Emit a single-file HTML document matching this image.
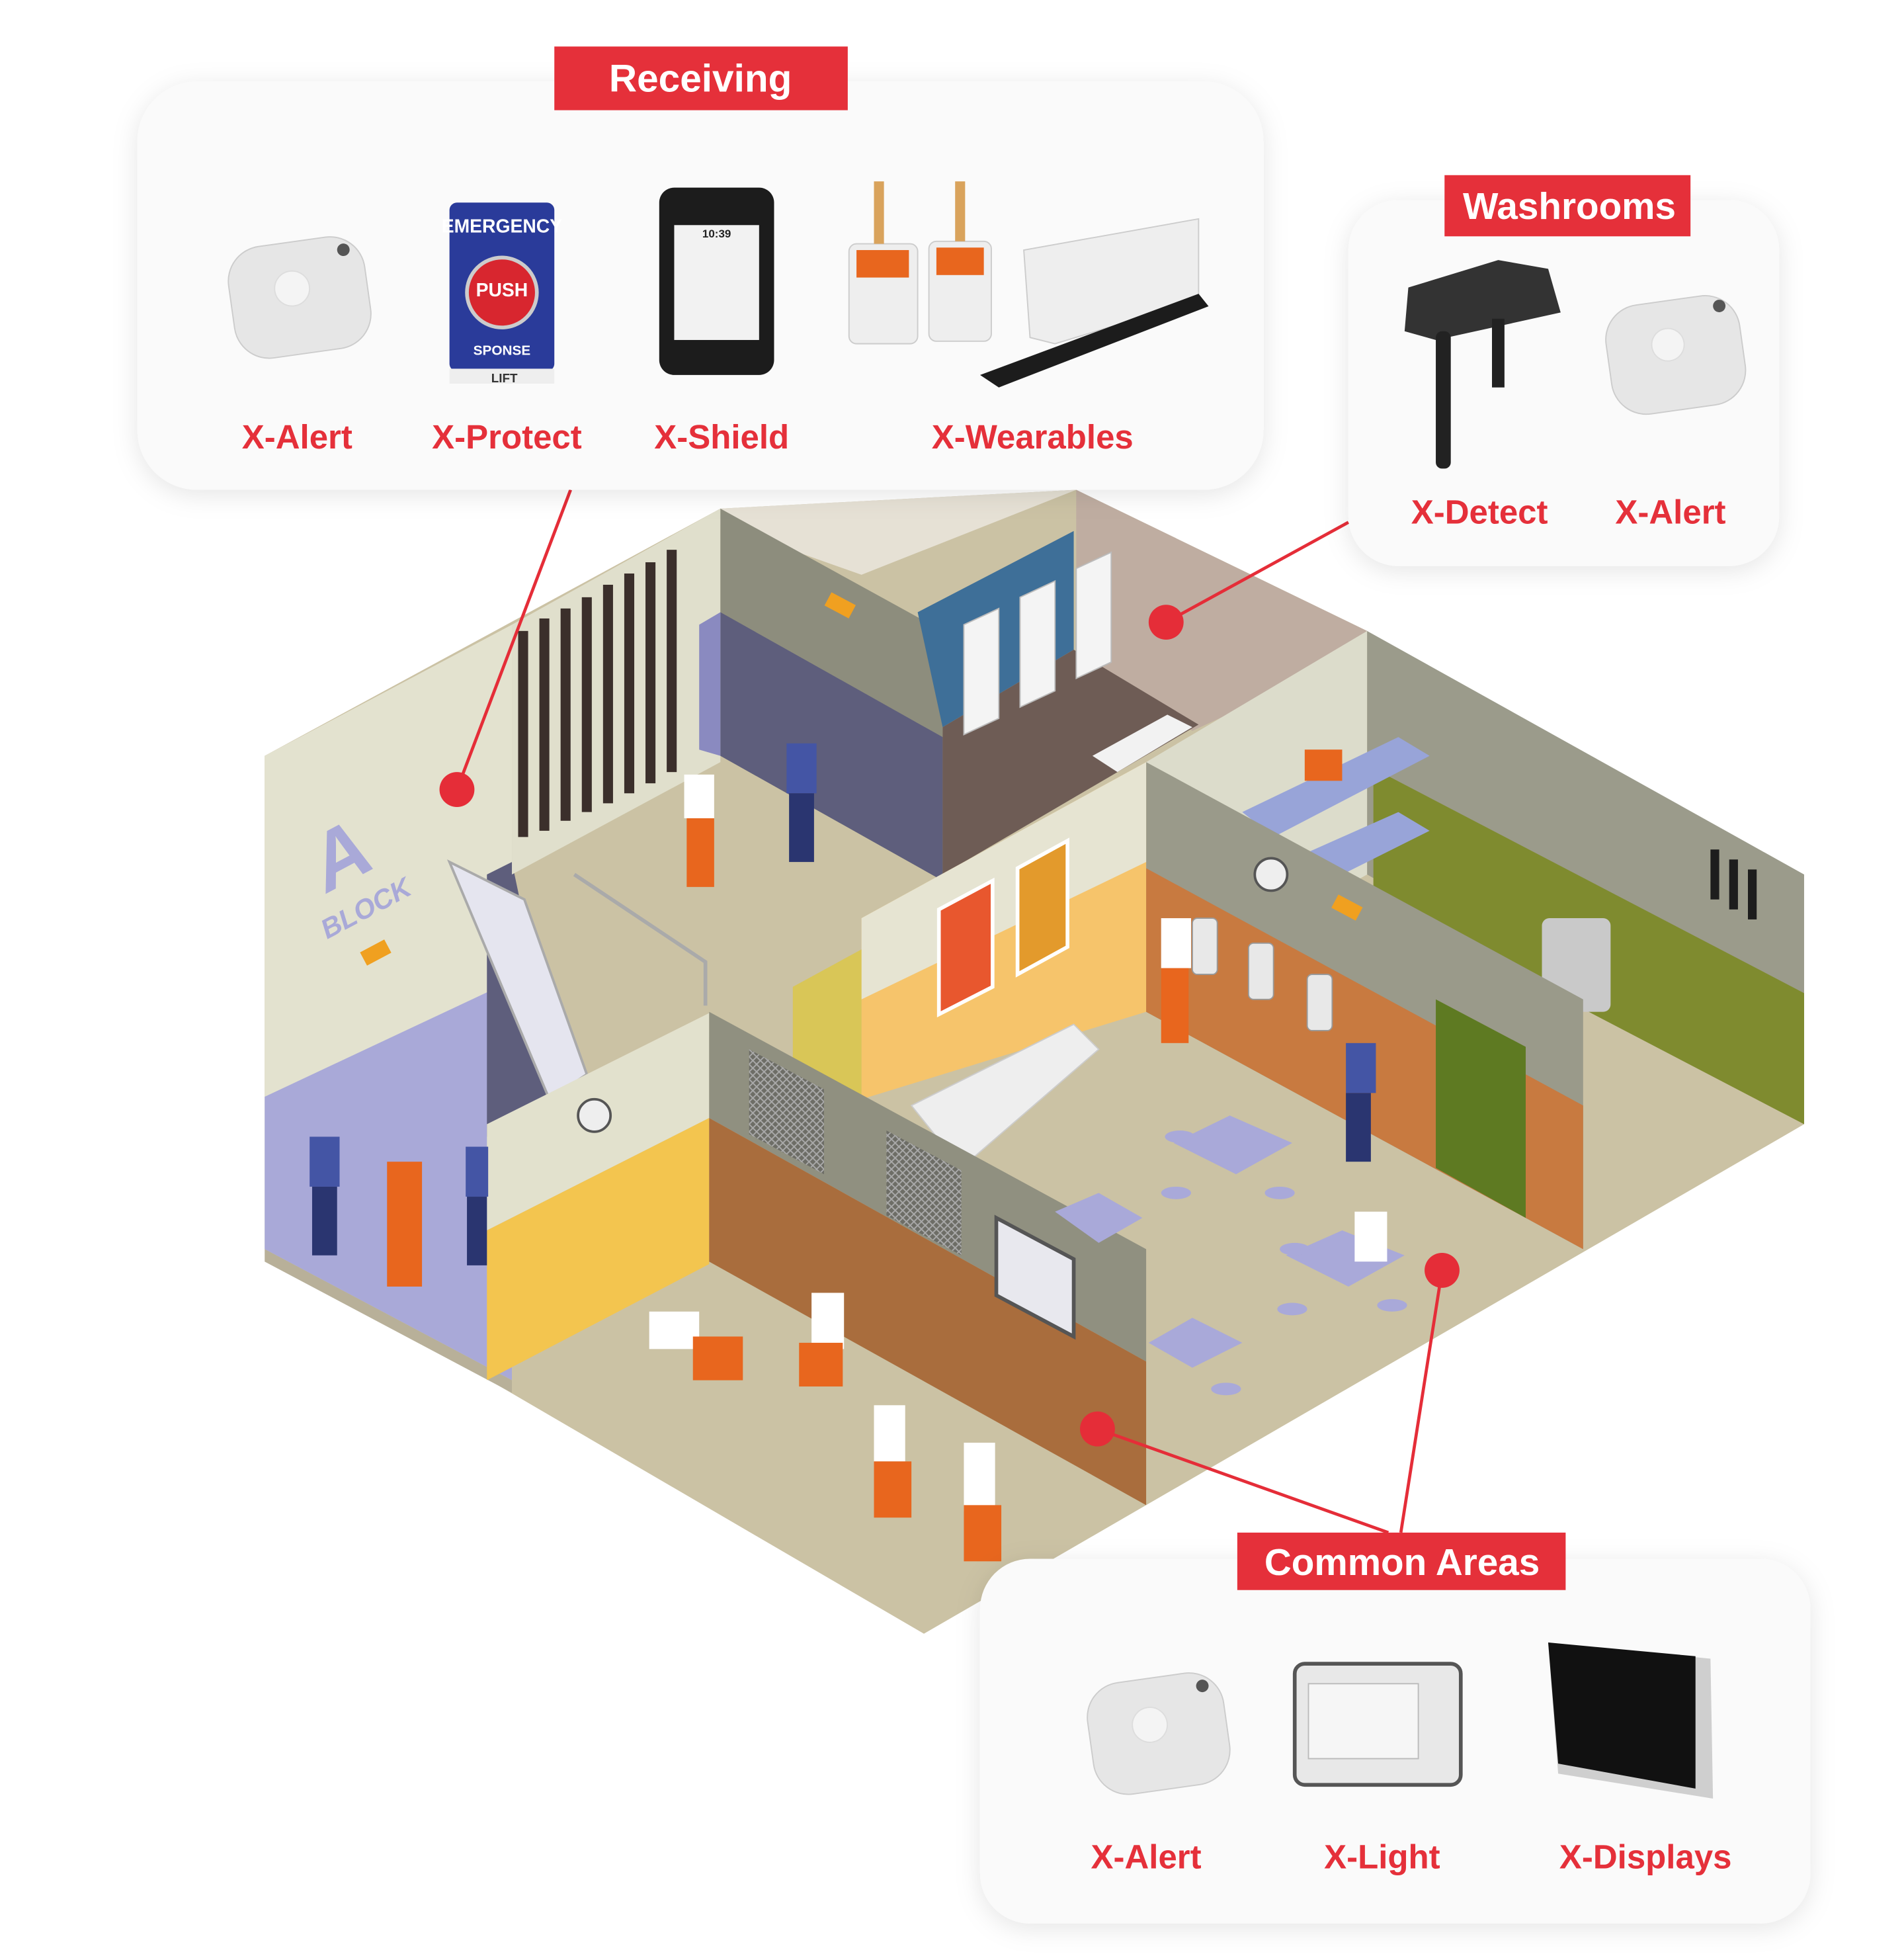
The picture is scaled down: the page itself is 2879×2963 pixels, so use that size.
<!DOCTYPE html>
<html><head><meta charset="utf-8"><style>
html,body{margin:0;padding:0;background:#fff;}
svg{display:block;}
text{font-family:"Liberation Sans",sans-serif;font-weight:bold;}
</style></head><body>
<svg width="2879" height="2963" viewBox="0 0 1525 1569" xmlns="http://www.w3.org/2000/svg">
<defs>
<filter id="sh" x="-10%" y="-10%" width="120%" height="130%"><feDropShadow dx="0" dy="4" stdDeviation="10" flood-color="#000" flood-opacity="0.10"/></filter>
<pattern id="mesh" width="6" height="6" patternUnits="userSpaceOnUse"><rect width="6" height="6" fill="#6d6d66"/><path d="M0 0L6 6M6 0L0 6" stroke="#aaa" stroke-width="1"/></pattern>
</defs>
<rect width="1525" height="1569" fill="#fff"/>

<!-- BUILDING -->
<polygon points="212,1000 740,1308 1445,900 1095,505 862,392 577,407 212,605" fill="#cbc2a4"/>
<polygon points="577,407 862,392 690,460 577,420" fill="#e6e1d5"/>
<!-- left wall -->
<polygon points="212,605 410,500 410,1105 212,1000" fill="#e3e2cf"/>
<polygon points="212,878 410,785 410,1105 212,1000" fill="#a9a9d8"/>
<polygon points="212,1000 410,1105 410,1115 212,1010" fill="#b8b099"/>
<polygon points="390,700 410,690 450,880 390,910" fill="#5e5e7c"/>
<!-- cell back wall -->
<polygon points="410,500 577,407 577,610 410,700" fill="#e0dfcc"/>
<g fill="#3b2f2b">
<rect x="415" y="505" width="8" height="165"/><rect x="432" y="495" width="8" height="170"/><rect x="449" y="487" width="8" height="170"/><rect x="466" y="478" width="8" height="172"/><rect x="483" y="468" width="8" height="175"/><rect x="500" y="459" width="8" height="176"/><rect x="517" y="450" width="8" height="177"/><rect x="534" y="440" width="8" height="178"/>
</g>
<polygon points="577,407 755,505 755,705 577,605" fill="#8d8d7d"/>
<polygon points="577,490 755,590 755,705 577,605" fill="#5e5e7c"/>
<polygon points="577,490 560,500 560,600 577,605" fill="#8a8ac0"/>
<!-- washroom -->
<polygon points="735,490 860,425 860,520 755,582" fill="#3e6f98"/>
<polygon points="862,392 1095,505 1095,520 955,585 862,530" fill="#bfada1"/>
<polygon points="755,582 860,520 960,580 755,700" fill="#6e5c55"/>
<g fill="#f4f4f4" stroke="#bbb">
<polygon points="772,500 800,487 800,575 772,588"/><polygon points="817,478 845,465 845,553 817,566"/><polygon points="862,455 890,442 890,530 862,543"/>
</g>
<polygon points="875,605 935,572 955,582 895,618" fill="#f2f2f2"/>
<!-- bedroom -->
<polygon points="918,610 1095,505 1095,700 918,800" fill="#dcdccb"/>
<polygon points="1095,505 1445,700 1445,900 1095,700" fill="#9b9b8b"/>
<polygon points="1100,615 1445,795 1445,900 1100,720" fill="#7f8b2f"/>
<polygon points="995,650 1120,590 1145,605 1020,670" fill="#98a4d8"/>
<polygon points="1030,690 1120,650 1145,665 1055,710" fill="#98a4d8"/>
<g fill="#1d1d1d"><rect x="1370" y="680" width="7" height="40"/><rect x="1385" y="688" width="7" height="40"/><rect x="1400" y="696" width="7" height="40"/></g>
<rect x="1235" y="735" width="55" height="75" rx="6" fill="#c9c9c9"/>
<!-- middle wall cafeteria/bedroom -->
<polygon points="918,610 1268,800 1268,1000 918,810" fill="#9a9a8a"/>
<polygon points="918,695 1268,885 1268,1000 918,810" fill="#c87a40"/>
<polygon points="1150,800 1222,838 1222,975 1150,935" fill="#5e7a22"/>
<g fill="#e8e8e8" stroke="#999"><rect x="955" y="735" width="20" height="45" rx="4"/><rect x="1000" y="755" width="20" height="45" rx="4"/><rect x="1047" y="780" width="20" height="45" rx="4"/></g>
<circle cx="1018" cy="700" r="13" fill="#eee" stroke="#555" stroke-width="2"/>
<!-- cafeteria back wall -->
<polygon points="690,735 918,610 918,810 690,880" fill="#f6c46b"/>
<polygon points="690,735 918,610 918,690 690,800" fill="#e6e4d2"/>
<polygon points="752,728 795,705 795,790 752,812" fill="#e8572e" stroke="#fff" stroke-width="3"/>
<polygon points="815,695 855,673 855,758 815,780" fill="#e39a2c" stroke="#fff" stroke-width="3"/>
<polygon points="635,790 690,760 690,880 635,860" fill="#d9c657"/>
<polygon points="730,885 860,820 880,840 770,935" fill="#eeeeee" stroke="#ccc"/>
<!-- stairs -->
<polygon points="360,690 420,720 470,860 440,880" fill="#e5e5ef" stroke="#aaa" stroke-width="2"/>
<polyline points="460,700 565,770 565,805" fill="none" stroke="#aaa" stroke-width="3"/>
<!-- gym walls -->
<polygon points="390,900 568,811 568,895 390,985" fill="#e2e1cd"/>
<polygon points="390,985 568,895 568,1012 390,1105" fill="#f3c54f"/>
<polygon points="568,810 918,1000 918,1090 568,895" fill="#909080"/>
<polygon points="568,895 918,1090 918,1205 568,1010" fill="#a96d3d"/>
<polygon points="600,840 660,872 660,940 600,908" fill="url(#mesh)"/>
<polygon points="710,905 770,937 770,1005 710,973" fill="url(#mesh)"/>
<polygon points="798,975 860,1008 860,1070 798,1037" fill="#e8e8ee" stroke="#555" stroke-width="3"/>
<circle cx="476" cy="893" r="13" fill="#eee" stroke="#555" stroke-width="2"/>
<!-- tables -->
<g fill="#a9a9d9">
<polygon points="940,915 985,893 1035,915 990,940"/><polygon points="1030,1005 1075,985 1125,1005 1080,1030"/><polygon points="920,1075 955,1055 995,1075 955,1095"/><polygon points="845,970 880,955 915,975 880,995"/>
<ellipse cx="945" cy="910" rx="12" ry="5"/><ellipse cx="942" cy="955" rx="12" ry="5"/><ellipse cx="1025" cy="955" rx="12" ry="5"/><ellipse cx="1037" cy="1000" rx="12" ry="5"/><ellipse cx="1035" cy="1048" rx="12" ry="5"/><ellipse cx="1115" cy="1045" rx="12" ry="5"/><ellipse cx="982" cy="1112" rx="12" ry="5"/>
</g>
<!-- people (simplified) -->
<g>
<rect x="548" y="620" width="24" height="35" fill="#fff"/><rect x="550" y="655" width="22" height="55" fill="#e8661e"/>
<rect x="630" y="595" width="24" height="40" fill="#4455a5"/><rect x="632" y="635" width="20" height="55" fill="#2a3570"/>
<rect x="248" y="910" width="24" height="40" fill="#4455a5"/><rect x="250" y="950" width="20" height="55" fill="#2a3570"/>
<rect x="310" y="930" width="28" height="100" fill="#e8661e"/>
<rect x="373" y="918" width="18" height="40" fill="#4455a5"/><rect x="374" y="958" width="16" height="55" fill="#2a3570"/>
<rect x="930" y="735" width="24" height="40" fill="#fff"/><rect x="930" y="775" width="22" height="60" fill="#e8661e"/>
<rect x="1078" y="835" width="24" height="40" fill="#4455a5"/><rect x="1078" y="875" width="20" height="55" fill="#2a3570"/>
<rect x="1085" y="970" width="26" height="40" fill="#fff"/>
<rect x="1045" y="600" width="30" height="25" fill="#e8661e"/>
<rect x="650" y="1035" width="26" height="45" fill="#fff"/><rect x="640" y="1075" width="35" height="35" fill="#e8661e"/>
<rect x="520" y="1050" width="40" height="30" fill="#fff"/><rect x="555" y="1070" width="40" height="35" fill="#e8661e"/>
<rect x="700" y="1125" width="25" height="45" fill="#fff"/><rect x="700" y="1170" width="30" height="45" fill="#e8661e"/>
<rect x="772" y="1155" width="25" height="55" fill="#fff"/><rect x="772" y="1205" width="30" height="45" fill="#e8661e"/>
</g>
<text x="0" y="0" transform="translate(262,715) rotate(-28)" font-size="64" fill="#a9a9d8" font-style="italic">A</text>
<text x="0" y="0" transform="translate(262,752) rotate(-28)" font-size="22" fill="#a9a9d8" font-style="italic">BLOCK</text>
<rect x="290" y="757" width="22" height="12" fill="#f0a020" transform="rotate(-28 300 763)"/>
<rect x="662" y="478" width="22" height="12" fill="#f0a020" transform="rotate(28 672 484)"/>
<rect x="1068" y="720" width="22" height="12" fill="#f0a020" transform="rotate(28 1078 726)"/>

<!-- connectors -->
<g stroke="#e52d38" stroke-width="2.5" fill="none">
<line x1="457" y1="392" x2="366" y2="632"/>
<line x1="1080" y1="418" x2="934" y2="498"/>
<line x1="1122" y1="1227" x2="1155" y2="1017"/>
<line x1="1112" y1="1227" x2="879" y2="1144"/>
</g>
<g fill="#e52d38"><circle cx="366" cy="632" r="14"/><circle cx="934" cy="498" r="14"/><circle cx="1155" cy="1017" r="14"/><circle cx="879" cy="1144" r="14"/></g>

<!-- RECEIVING PANEL -->
<rect x="110" y="65" width="902" height="327" rx="48" fill="#fafafa" filter="url(#sh)"/>
<rect x="444" y="37" width="235" height="51" fill="#e5303a"/>
<text x="561" y="73" font-size="31" fill="#fff" text-anchor="middle">Receiving</text>
<g transform="rotate(-8 240 238)"><rect x="185" y="193" width="110" height="90" rx="28" fill="#e6e6e6" stroke="#ccc"/><circle cx="235" cy="230" r="14" fill="#f4f4f4" stroke="#ddd"/><circle cx="280" cy="205" r="5" fill="#555"/></g>
<rect x="360" y="162" width="84" height="135" rx="6" fill="#2a3b9a"/><rect x="360" y="295" width="84" height="12" fill="#eee"/>
<text x="402" y="186" font-size="15" fill="#fff" text-anchor="middle" font-weight="normal">EMERGENCY</text>
<circle cx="402" cy="234" r="28" fill="#d8262f" stroke="#ccc" stroke-width="3"/>
<text x="402" y="237" font-size="15" fill="#fff" text-anchor="middle">PUSH</text>
<text x="402" y="284" font-size="11" fill="#fff" text-anchor="middle" font-weight="normal">SPONSE</text>
<text x="404" y="306" font-size="10" fill="#333" text-anchor="middle" font-weight="normal">LIFT</text>
<rect x="528" y="150" width="92" height="150" rx="12" fill="#1c1c1c"/><rect x="540" y="180" width="68" height="92" fill="#f2f2f2"/>
<text x="574" y="190" font-size="9" fill="#222" text-anchor="middle">10:39</text>
<g fill="#eee" stroke="#ccc"><rect x="680" y="195" width="55" height="80" rx="6"/><rect x="744" y="193" width="50" height="80" rx="6"/><polygon points="820,200 960,175 960,240 845,275 825,270"/></g>
<polygon points="785,300 960,235 968,245 800,310" fill="#1c1c1c"/>
<rect x="686" y="200" width="42" height="22" fill="#e8661e"/><rect x="750" y="198" width="38" height="22" fill="#e8661e"/>
<rect x="700" y="145" width="8" height="50" fill="#d9a35c"/><rect x="765" y="145" width="8" height="48" fill="#d9a35c"/>
<g font-size="27" fill="#e5303a" text-anchor="middle">
<text x="238" y="359">X-Alert</text><text x="406" y="359">X-Protect</text><text x="578" y="359">X-Shield</text><text x="827" y="359">X-Wearables</text>
</g>

<!-- WASHROOMS PANEL -->
<rect x="1080" y="160" width="345" height="293" rx="40" fill="#fafafa" filter="url(#sh)"/>
<rect x="1157" y="140" width="197" height="49" fill="#e5303a"/>
<text x="1257" y="175" font-size="30" fill="#fff" text-anchor="middle">Washrooms</text>
<polygon points="1128,230 1200,208 1240,215 1250,250 1150,272 1125,265" fill="#333"/>
<rect x="1150" y="265" width="12" height="110" rx="5" fill="#222"/><rect x="1195" y="255" width="10" height="55" fill="#222"/>
<g transform="rotate(-8 1342 283)"><rect x="1288" y="240" width="108" height="88" rx="28" fill="#e6e6e6" stroke="#ccc"/><circle cx="1337" cy="275" r="13" fill="#f4f4f4" stroke="#ddd"/><circle cx="1382" cy="250" r="5" fill="#555"/></g>
<g font-size="27" fill="#e5303a" text-anchor="middle"><text x="1185" y="419">X-Detect</text><text x="1338" y="419">X-Alert</text></g>

<!-- COMMON AREAS PANEL -->
<rect x="785" y="1248" width="665" height="292" rx="40" fill="#fafafa" filter="url(#sh)"/>
<rect x="991" y="1227" width="263" height="46" fill="#e5303a"/>
<text x="1123" y="1261" font-size="30" fill="#fff" text-anchor="middle">Common Areas</text>
<g transform="rotate(-8 928 1388)"><rect x="873" y="1343" width="110" height="90" rx="28" fill="#e6e6e6" stroke="#ccc"/><circle cx="922" cy="1380" r="14" fill="#f4f4f4" stroke="#ddd"/><circle cx="968" cy="1355" r="5" fill="#555"/></g>
<rect x="1037" y="1332" width="133" height="97" rx="8" fill="#e8e8e8" stroke="#555" stroke-width="3"/><rect x="1048" y="1348" width="88" height="60" fill="#f6f6f6" stroke="#bbb"/>
<polygon points="1240,1315 1370,1328 1372,1440 1248,1420" fill="#cfcfcf"/>
<polygon points="1240,1315 1358,1326 1358,1432 1248,1412" fill="#111"/>
<g font-size="27" fill="#e5303a" text-anchor="middle"><text x="918" y="1496">X-Alert</text><text x="1107" y="1496">X-Light</text><text x="1318" y="1496">X-Displays</text></g>
</svg>
</body></html>
